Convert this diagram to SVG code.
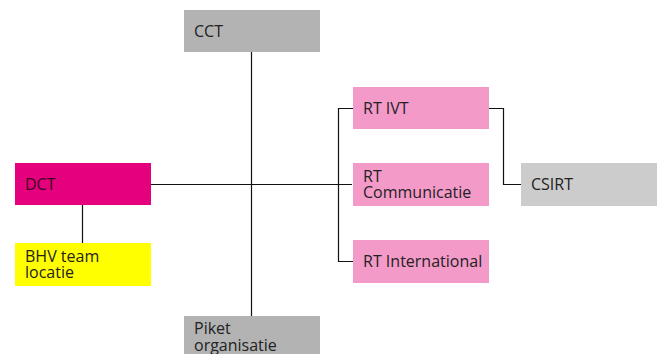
<svg xmlns="http://www.w3.org/2000/svg" width="659" height="354" viewBox="0 0 659 354">
  <style>
    .lbl { font-family: "Open Sans", Lato, sans-serif; font-size: 16px; fill: #222; }
    .line { fill: none; stroke: #111; stroke-width: 1.2; }
    .grey { fill: #b3b3b3; }
    .light { fill: #cccccc; }
    .rt { fill: #f49ac9; }
  </style>
  <rect width="659" height="354" fill="#ffffff"/>
  <g id="connectors">
    <path class="line" d="M251.5 52 V316"/>
    <path class="line" d="M151 184.5 H352"/>
    <path class="line" d="M82.5 205 V243"/>
    <path class="line" d="M353 108.5 H338.5 V261.5 H353"/>
    <path class="line" d="M489 108.5 H503.5 V184.5 H521"/>
  </g>
  <g id="cct">
    <rect class="grey" x="184" y="10" width="136" height="42"/>
    <text class="lbl" x="194" y="37">CCT</text>
  </g>
  <g id="dct">
    <rect x="15" y="163" width="136" height="42" fill="#e5007e"/>
    <text class="lbl" x="25" y="190" style="fill:#3a0020">DCT</text>
  </g>
  <g id="bhv">
    <rect x="15" y="243" width="136" height="43" fill="#ffff00"/>
    <text class="lbl" x="25" y="262">BHV team<tspan x="25" dy="16">locatie</tspan></text>
  </g>
  <g id="rt-ivt">
    <rect class="rt" x="353" y="87" width="136" height="42"/>
    <text class="lbl" x="363" y="114">RT IVT</text>
  </g>
  <g id="rt-communicatie">
    <rect class="rt" x="353" y="163" width="136" height="43"/>
    <text class="lbl" x="363" y="182">RT<tspan x="363" dy="16">Communicatie</tspan></text>
  </g>
  <g id="rt-international">
    <rect class="rt" x="353" y="240" width="136" height="43"/>
    <text class="lbl" x="363" y="267">RT International</text>
  </g>
  <g id="csirt">
    <rect class="light" x="521" y="163" width="136" height="43"/>
    <text class="lbl" x="531" y="190">CSIRT</text>
  </g>
  <g id="piket">
    <rect class="grey" x="184" y="316" width="136" height="40"/>
    <text class="lbl" x="194" y="334">Piket<tspan x="194" dy="17">organisatie</tspan></text>
  </g>
</svg>
